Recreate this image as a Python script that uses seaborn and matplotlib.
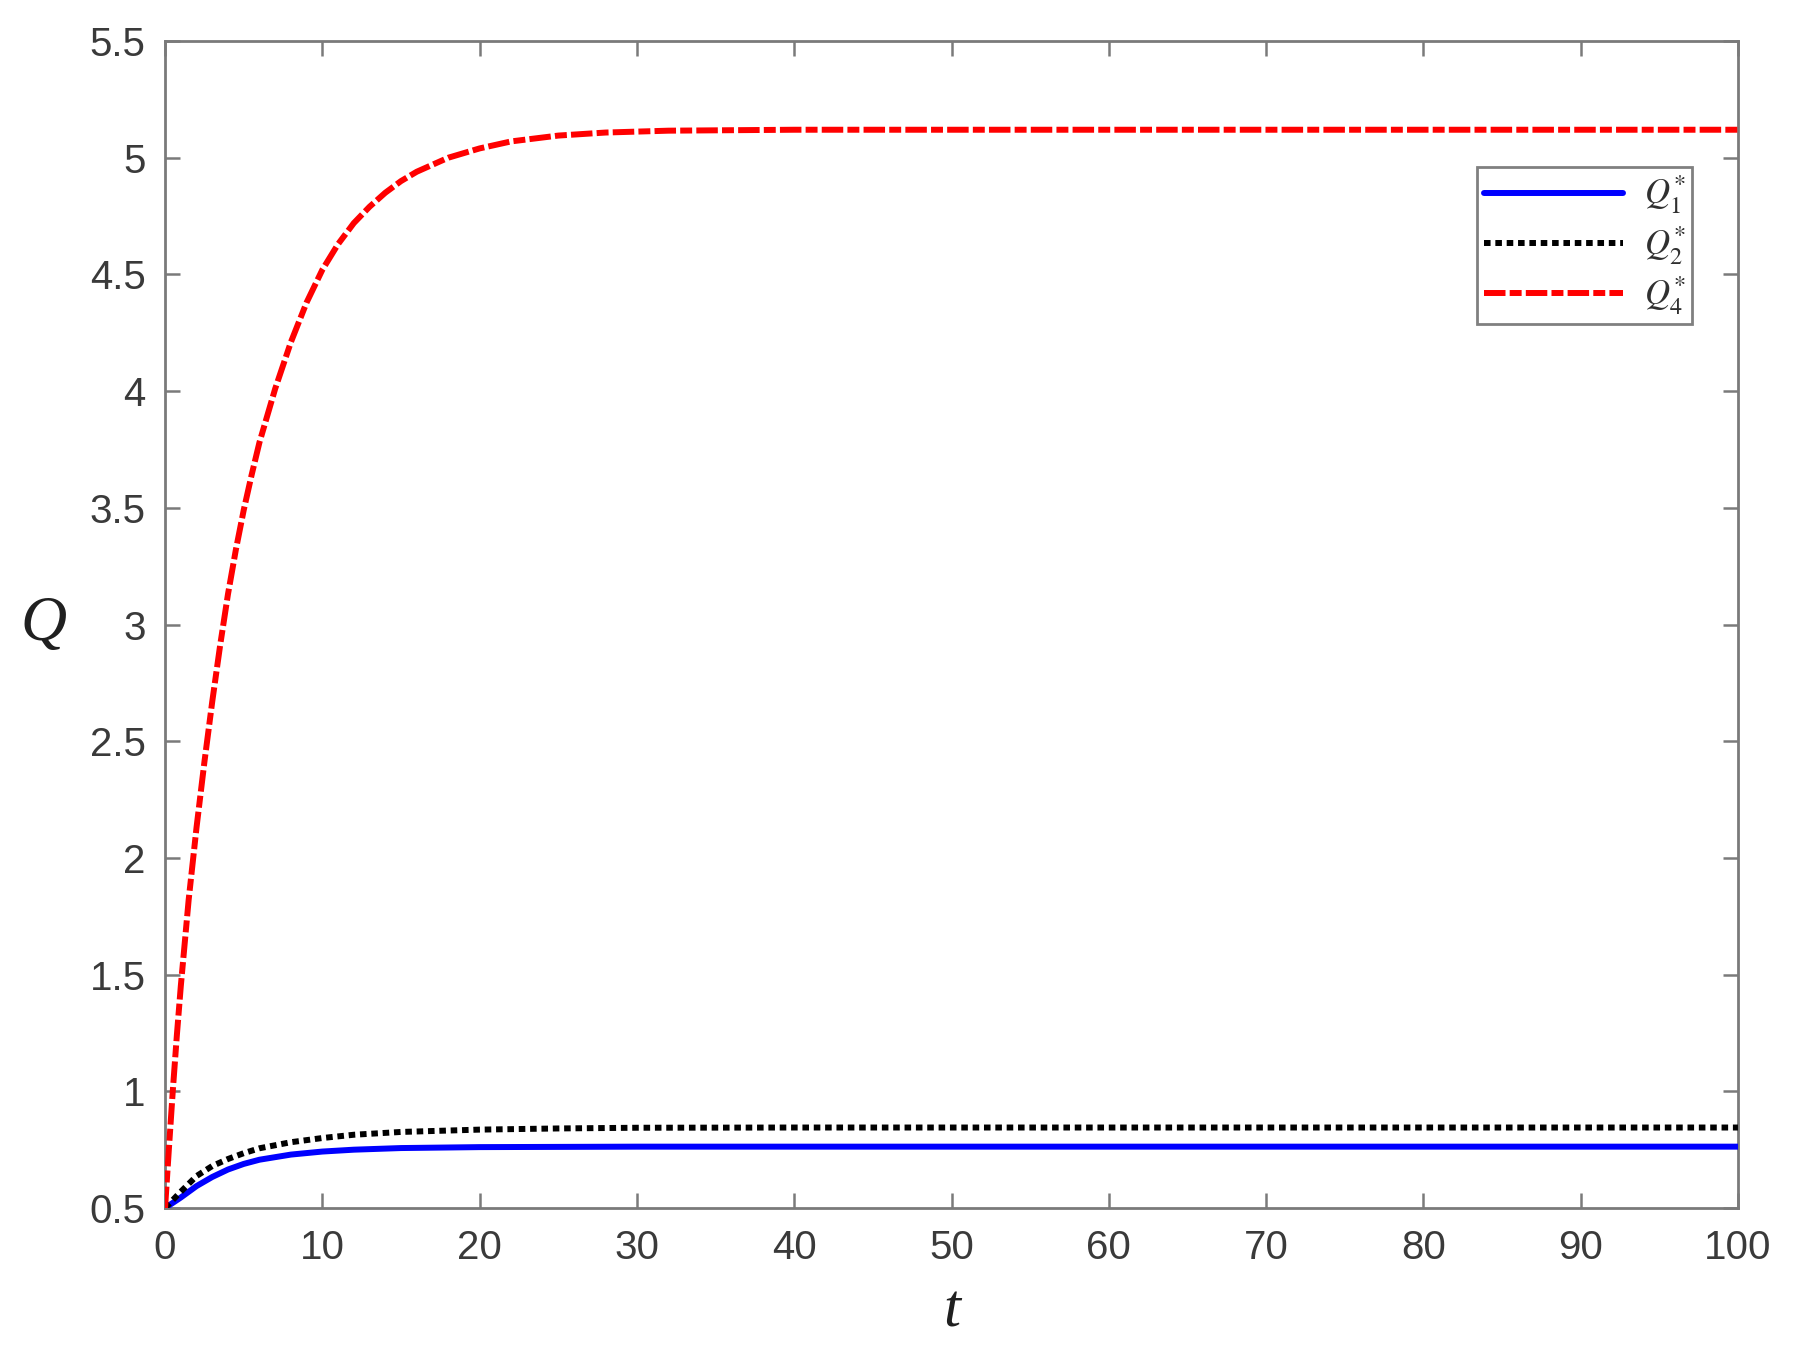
import numpy as np
import pandas as pd
import matplotlib
matplotlib.use("Agg")
import matplotlib.pyplot as plt
import seaborn as sns

# ---- data ----
t_q4 = [0, 0.25, 0.5, 0.75, 1, 1.5, 2, 2.5, 3, 3.5, 4, 4.5, 5, 5.5, 6, 7, 8, 9, 10,
        11, 12, 13, 14, 15, 16, 18, 20, 22, 25, 28, 32, 40, 60, 80, 100]
q4 = [0.50, 0.76, 1.01, 1.24, 1.45, 1.82, 2.13, 2.41, 2.67, 2.91, 3.13, 3.32, 3.49, 3.64, 3.78, 4.01, 4.21, 4.38, 4.52,
      4.63, 4.72, 4.79, 4.85, 4.90, 4.94, 5.00, 5.04, 5.07, 5.095, 5.108, 5.116, 5.12, 5.12, 5.12, 5.12]

t_q1 = [0, 1, 2, 3, 4, 5, 6, 8, 10, 12, 15, 20, 30, 50, 100]
q1 = [0.500, 0.545, 0.594, 0.633, 0.665, 0.689, 0.707, 0.729, 0.742, 0.750, 0.757, 0.761, 0.763, 0.763, 0.763]

t_q2 = [0, 1, 2, 3, 4, 5, 6, 8, 10, 12, 15, 20, 25, 30, 40, 100]
q2 = [0.500, 0.570, 0.637, 0.680, 0.710, 0.735, 0.756, 0.782, 0.800, 0.814, 0.826, 0.836, 0.841, 0.844, 0.845, 0.845]

series_labels = [r'$Q_1^{*}$', r'$Q_2^{*}$', r'$Q_4^{*}$']
x_ticks = [0, 10, 20, 30, 40, 50, 60, 70, 80, 90, 100]
x_tick_labels = ['0', '10', '20', '30', '40', '50', '60', '70', '80', '90', '100']
y_ticks = [0.5, 1, 1.5, 2, 2.5, 3, 3.5, 4, 4.5, 5, 5.5]
y_tick_labels = ['0.5', '1', '1.5', '2', '2.5', '3', '3.5', '4', '4.5', '5', '5.5']

sns.set_theme(style="white")
plt.rcParams['font.family'] = ['Liberation Sans', 'DejaVu Sans']
plt.rcParams['mathtext.fontset'] = 'stix'

DPI = 100
fig = plt.figure(figsize=(17.98, 13.46), dpi=DPI, facecolor='white')
ax = fig.add_axes([0.0918, 0.1025, 0.9666 - 0.0918, 0.9695 - 0.1025])

lw = 4.3
df1 = pd.DataFrame({'t': t_q1, 'Q': q1})
df2 = pd.DataFrame({'t': t_q2, 'Q': q2})
df4 = pd.DataFrame({'t': t_q4, 'Q': q4})

sns.lineplot(data=df1, x='t', y='Q', ax=ax, color='#0000ff', lw=lw,
             linestyle='-', label=series_labels[0], zorder=3)
sns.lineplot(data=df2, x='t', y='Q', ax=ax, color='black', lw=lw,
             linestyle=(0, (1.1, 0.8)), label=series_labels[1], zorder=4)
sns.lineplot(data=df4, x='t', y='Q', ax=ax, color='#ff0000', lw=lw,
             linestyle=(0, (3.6, 0.7, 2.0, 0.7)), label=series_labels[2], zorder=5)

ax.set_xlim(0, 100)
ax.set_ylim(0.5, 5.5)
ax.set_xticks(x_ticks)
ax.set_xticklabels(x_tick_labels)
ax.set_yticks(y_ticks)
ax.set_yticklabels(y_tick_labels)

spine_col = '#7a7a7a'
for s in ax.spines.values():
    s.set_visible(True)
    s.set_color(spine_col)
    s.set_linewidth(2.0)

ax.tick_params(axis='both', which='major', direction='in', length=11, width=1.8,
               color=spine_col, labelcolor='#3a3a3a', labelsize=29,
               top=True, right=True, bottom=True, left=True)
ax.tick_params(axis='x', pad=15)
ax.tick_params(axis='y', pad=14)

ax.set_xlabel('t', fontsize=44, fontstyle='italic', family=['Liberation Serif'],
              labelpad=12, color='#202020')
ax.set_ylabel('Q', fontsize=46, fontstyle='italic', family=['Liberation Serif'],
              rotation=0, labelpad=30, color='#202020', va='center')
ax.yaxis.set_label_coords(-0.077, 0.5)

leg = ax.legend(loc='upper right', bbox_to_anchor=(1692 / 1798, 1 - 167 / 1346),
                bbox_transform=fig.transFigure, fontsize=25, frameon=True,
                fancybox=False, handlelength=4.0, handletextpad=0.6,
                labelspacing=0.22, borderpad=0.2, borderaxespad=0.0)
leg.get_frame().set_edgecolor('#606060')
leg.get_frame().set_linewidth(2.0)
for txt in leg.get_texts():
    txt.set_color('#303030')

fig.savefig('out.png', dpi=DPI, facecolor='white')
